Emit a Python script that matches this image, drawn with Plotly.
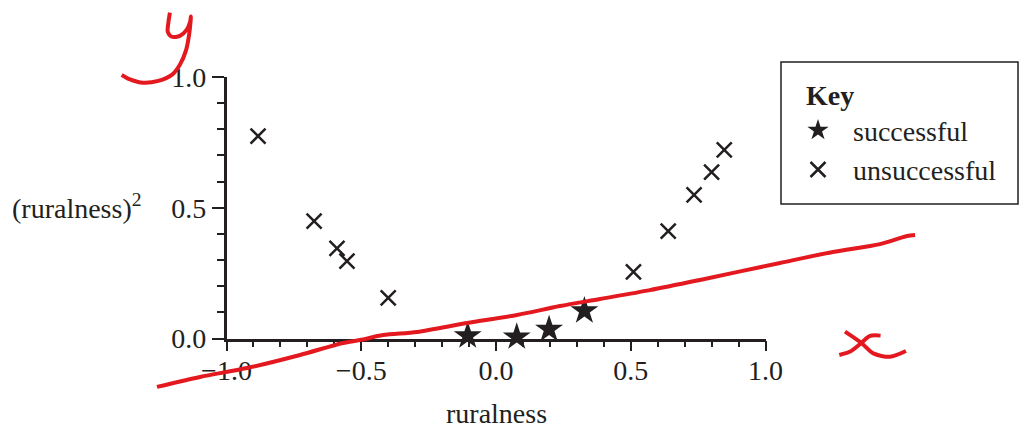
import plotly.graph_objects as go

# ---- data ----
succ_x = [-0.105, 0.077, 0.197, 0.328]
succ_y = [0.010, 0.006, 0.035, 0.106]

unsucc_x = [-0.883, -0.675, -0.590, -0.553, -0.400, 0.510, 0.639, 0.735, 0.800, 0.847]
unsucc_y = [0.774, 0.449, 0.345, 0.296, 0.155, 0.255, 0.411, 0.549, 0.636, 0.721]

x_ticks = [-1.0, -0.5, 0.0, 0.5, 1.0]
y_ticks = [0.0, 0.5, 1.0]

# red hand-drawn annotations (in chart units)
red_line_x = [-1.258, -1.098, -0.924, -0.727, -0.568, -0.505, -0.419, -0.293, -0.108, 0.078,
              0.237, 0.386, 0.571, 0.757, 1.054, 1.250, 1.425, 1.525, 1.555]
red_line_y = [-0.185, -0.147, -0.113, -0.063, -0.017, -0.006, 0.013, 0.025, 0.059, 0.090,
              0.124, 0.151, 0.185, 0.224, 0.289, 0.331, 0.361, 0.392, 0.396]

y_letter_x = [-1.210, -1.216, -1.218, -1.203, -1.173, -1.148, -1.135, -1.132, -1.138, -1.150,
              -1.173, -1.203, -1.253, -1.309, -1.358, -1.389]
y_letter_y = [1.246, 1.205, 1.173, 1.154, 1.157, 1.180, 1.211, 1.231, 1.167, 1.103,
              1.047, 1.008, 0.985, 0.978, 0.991, 1.008]

x_letter_a_x = [1.295, 1.357, 1.400, 1.462, 1.521]
x_letter_a_y = [0.026, -0.018, -0.057, -0.070, -0.048]
x_letter_b_x = [1.427, 1.388, 1.351, 1.314, 1.274]
x_letter_b_y = [0.011, 0.010, -0.021, -0.050, -0.063]

# ---- layout geometry ----
W, H = 1019, 432
px_x0, px_x1 = 226.5, 765.5    # pixel of x=-1 and x=1
px_y0, px_y1 = 338.5, 77.0     # pixel of y=0 and y=1
INK = "#231f20"
RED = "#e3191f"
FONT = "Liberation Serif"
FS = 28

sx = (px_x1 - px_x0) / 2.0
sy = (px_y0 - px_y1) / 1.0
ov_xrange = [-1 - px_x0 / sx, -1 + (W - px_x0) / sx]
ov_yrange = [-(H - px_y0) / sy, px_y0 / sy]

fig = go.Figure()

fig.add_trace(go.Scatter(
    x=succ_x, y=succ_y, mode="markers", name="successful",
    marker=dict(symbol="star", size=21, color=INK, line=dict(width=0)),
    cliponaxis=False, xaxis="x", yaxis="y"))
fig.add_trace(go.Scatter(
    x=unsucc_x, y=unsucc_y, mode="markers", name="unsuccessful",
    marker=dict(symbol="x-thin-open", size=15, color=INK, line=dict(width=2.5, color=INK)),
    cliponaxis=False, xaxis="x", yaxis="y"))

for xs, ys in [(red_line_x, red_line_y), (y_letter_x, y_letter_y),
               (x_letter_a_x, x_letter_a_y), (x_letter_b_x, x_letter_b_y)]:
    fig.add_trace(go.Scatter(
        x=xs, y=ys, mode="lines", showlegend=False, hoverinfo="skip",
        line=dict(color=RED, width=4, shape="spline", smoothing=0.8),
        xaxis="x2", yaxis="y2"))

axis_common = dict(
    showgrid=False, zeroline=False, showline=True, linecolor=INK, linewidth=2.5,
    ticks="outside", tickwidth=2, tickcolor=INK, tickformat=".1f",
    automargin=False,
    tickfont=dict(family=FONT, size=FS, color=INK))

fig.update_layout(
    template="none",
    width=W, height=H, autosize=False,
    margin=dict(l=0, r=0, t=0, b=0, pad=0),
    paper_bgcolor="white", plot_bgcolor="rgba(0,0,0,0)",
    font=dict(family=FONT, size=FS, color=INK),
    xaxis=dict(domain=[px_x0 / W, px_x1 / W], range=[-1, 1], anchor="y",
               tickvals=x_ticks, ticklen=10, ticklabelstandoff=-5,
               minor=dict(dtick=0.1, ticks="outside", ticklen=6, tickwidth=1.5,
                          tickcolor=INK, showgrid=False),
               **axis_common),
    yaxis=dict(domain=[(H - px_y0) / H, (H - px_y1) / H], range=[0, 1], anchor="x",
               tickvals=y_ticks, ticklen=12,
               minor=dict(dtick=0.1, ticks="outside", ticklen=7, tickwidth=1.5,
                          tickcolor=INK, showgrid=False),
               **axis_common),
    xaxis2=dict(domain=[0, 1], range=ov_xrange, anchor="y2", visible=False,
                fixedrange=True, automargin=False),
    yaxis2=dict(domain=[0, 1], range=ov_yrange, anchor="x2", visible=False,
                fixedrange=True, automargin=False),
    legend=dict(
        x=783 / W, y=(H - 69) / H, xanchor="left", yanchor="top",
        borderwidth=0, bgcolor="rgba(0,0,0,0)",
        title=dict(text="&nbsp;&nbsp;&nbsp;<b>Key</b>", font=dict(family=FONT, size=FS, color=INK)),
        font=dict(family=FONT, size=FS, color=INK),
        itemsizing="trace", itemwidth=60, tracegroupgap=0),
    shapes=[
        dict(type="rect", xref="paper", yref="paper",
             x0=781 / W, x1=1018 / W, y0=(H - 204) / H, y1=(H - 62) / H,
             line=dict(color=INK, width=1.5), fillcolor="rgba(0,0,0,0)", layer="below"),
    ],
    annotations=[
        dict(text="(ruralness)<sup>2</sup>", x=10 / W, y=(H - 207) / H, xref="paper", yref="paper",
             xanchor="left", yanchor="middle", showarrow=False,
             font=dict(family=FONT, size=FS, color=INK)),
        dict(text="ruralness", x=496 / W, y=(H - 413) / H, xref="paper", yref="paper",
             xanchor="center", yanchor="middle", showarrow=False,
             font=dict(family=FONT, size=FS, color=INK)),
    ],
)

fig.write_html("out.html", config={"displayModeBar": False},
               post_script="document.body.style.margin='0px';")
